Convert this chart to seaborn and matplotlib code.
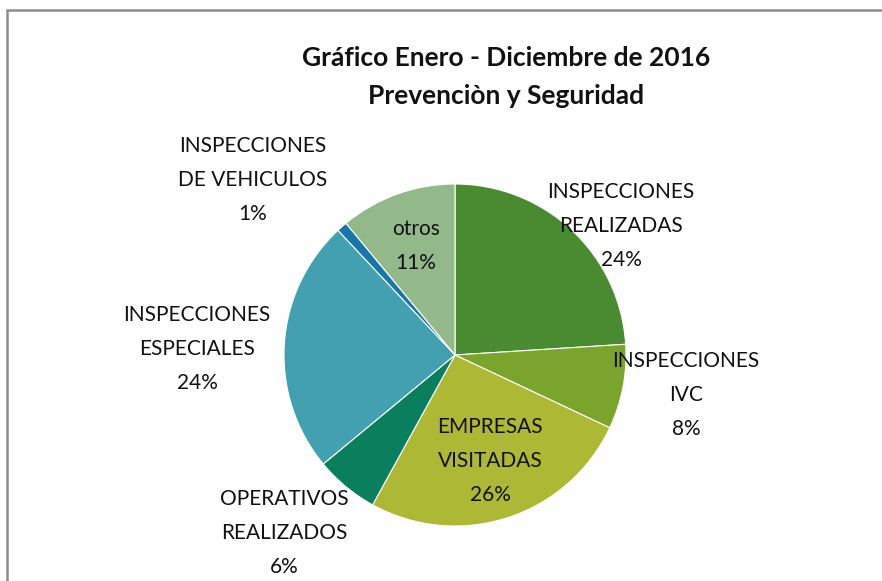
import matplotlib
matplotlib.use("Agg")
import matplotlib.pyplot as plt
import seaborn as sns
from matplotlib.patches import Rectangle

# Data (clockwise from 12 o'clock)
categories = ["INSPECCIONES\nREALIZADAS", "INSPECCIONES\nIVC", "EMPRESAS\nVISITADAS",
              "OPERATIVOS\nREALIZADOS", "INSPECCIONES\nESPECIALES",
              "INSPECCIONES\nDE VEHICULOS", "otros"]
shares = [24, 8, 26, 6, 24, 1, 11]
colors = ["#4A8B31", "#7AA42C", "#ADB935", "#0A7F5E", "#43A0B0", "#1976A8", "#93B98A"]

# label anchor points, in figure pixels (x, y from top)
label_xy = [(621, 226), (686, 395), (490, 461), (284, 533), (197, 349), (253, 180), (416, 246)]

W, H = 882, 581
sns.set_theme(style="white")
plt.rcParams['font.family'] = ['Lato', 'DejaVu Sans']

fig = plt.figure(figsize=(W / 100, H / 100), dpi=100)
ax = fig.add_axes([0, 0, 1, 1])

ax.pie(shares, colors=colors, startangle=90, counterclock=False,
       center=(455, H - 355), radius=171,
       wedgeprops={"linewidth": 0.8, "edgecolor": "white"})

ax.set_xlim(0, W)
ax.set_ylim(0, H)
ax.set_aspect("equal")
ax.axis("off")

# chart frame
ax.add_patch(Rectangle((7, -5), W + 10, H - 10 + 5, fill=False, edgecolor="#8c8c8c", lw=1.8))

for cat, val, (x, y) in zip(categories, shares, label_xy):
    ax.text(x, H - y, f"{cat}\n{val}%", ha="center", va="center",
            fontsize=15, color="#111111", linespacing=1.9)

ax.text(506, H - 77, "Gráfico Enero - Diciembre de 2016\nPrevenciòn y Seguridad",
        ha="center", va="center", fontsize=19, fontweight="bold",
        color="#111111", linespacing=1.75)

fig.savefig("out.png", dpi=100, facecolor="white")
